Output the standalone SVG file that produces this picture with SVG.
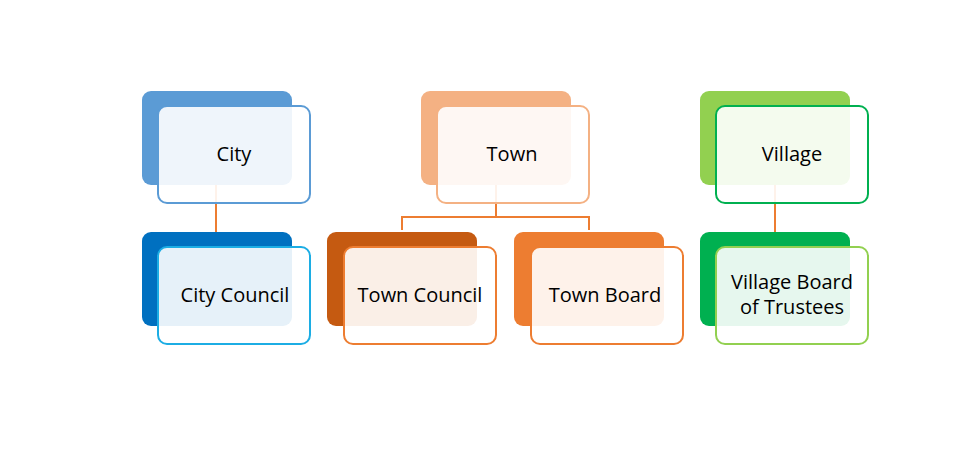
<svg xmlns="http://www.w3.org/2000/svg" width="976" height="453" viewBox="0 0 976 453">
<style>
.bg{stroke:none}
.fr{fill:#ffffff;fill-opacity:0.9;stroke-width:2}
.t{font-family:"Open Sans","Noto Sans",sans-serif;font-size:20px;fill:#000;text-anchor:middle}
.c{stroke:#ED7D31;stroke-width:2;fill:none}
</style>
<rect width="976" height="453" fill="#ffffff"/>
<g id="connectors">
<path class="c" d="M216 185V232"/>
<path class="c" d="M496 185V217M402 230V217H589V230"/>
<path class="c" d="M775 185V232"/>
</g>
<g id="city">
<rect class="bg" x="142" y="91" width="150" height="94" rx="9" fill="#5B9BD5"/>
<rect class="fr" x="158" y="106" width="152" height="97" rx="9" stroke="#5B9BD5"/>
<text class="t" x="234" y="161">City</text>
</g>
<g id="city-council">
<rect class="bg" x="142" y="232" width="150" height="94" rx="9" fill="#0070C0"/>
<rect class="fr" x="158" y="247" width="152" height="97" rx="9" stroke="#1CADE4"/>
<text class="t" x="235" y="302">City Council</text>
</g>
<g id="town">
<rect class="bg" x="421" y="91" width="150" height="94" rx="9" fill="#F4B183"/>
<rect class="fr" x="437" y="106" width="152" height="97" rx="9" stroke="#F4B183"/>
<text class="t" x="512" y="161">Town</text>
</g>
<g id="town-council">
<rect class="bg" x="327" y="232" width="150" height="94" rx="9" fill="#C55A11"/>
<rect class="fr" x="344" y="247" width="152" height="97" rx="9" stroke="#ED7D31"/>
<text class="t" x="420" y="302">Town Council</text>
</g>
<g id="town-board">
<rect class="bg" x="514" y="232" width="150" height="94" rx="9" fill="#ED7D31"/>
<rect class="fr" x="531" y="247" width="152" height="97" rx="9" stroke="#ED7D31"/>
<text class="t" x="605" y="302">Town Board</text>
</g>
<g id="village">
<rect class="bg" x="700" y="91" width="150" height="94" rx="9" fill="#92D050"/>
<rect class="fr" x="716" y="106" width="152" height="97" rx="9" stroke="#00B050"/>
<text class="t" x="792" y="161">Village</text>
</g>
<g id="village-board">
<rect class="bg" x="700" y="232" width="150" height="94" rx="9" fill="#00B050"/>
<rect class="fr" x="716" y="247" width="152" height="97" rx="9" stroke="#92D050"/>
<text class="t" x="792" y="289">Village Board</text>
<text class="t" x="792" y="314">of Trustees</text>
</g>
</svg>
